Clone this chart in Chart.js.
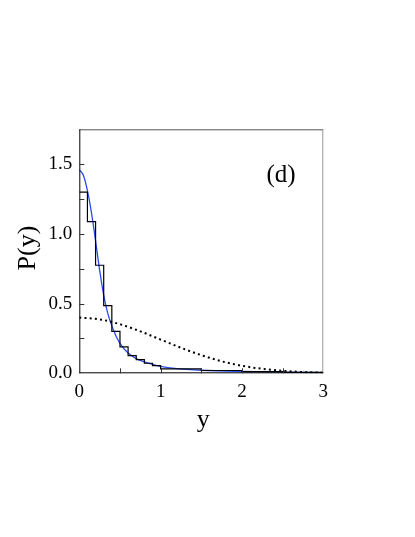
<!DOCTYPE html>
<html>
<head>
<meta charset="utf-8">
<script src="https://cdn.jsdelivr.net/npm/chart.js@4"></script>
<style>
  html, body { margin: 0; padding: 0; background: #fff; }
  canvas { display: block; }
</style>
</head>
<body>
<canvas id="c" width="415" height="537"></canvas>
<script>
// Histogram: bin left edges and heights (last edge closes the step)
const histEdges  = [0, 0.1, 0.2, 0.3, 0.4, 0.5, 0.6, 0.7, 0.8, 0.9, 1.0, 1.5, 2.0, 2.5, 3.0];
const histValues = [1.30, 1.088, 0.775, 0.485, 0.30, 0.19, 0.127, 0.098, 0.072, 0.055, 0.032, 0.02, 0.012, 0.007, 0.007];

// Blue fitted curve
const blueX = [0, 0.05, 0.1, 0.15, 0.2, 0.25, 0.3, 0.35, 0.4, 0.45, 0.5, 0.6, 0.7, 0.8, 0.9, 1.0, 1.2, 1.5, 2.0, 2.5, 3.0];
const blueY = [1.46, 1.42, 1.31, 1.15, 0.95, 0.74, 0.56, 0.43, 0.34, 0.27, 0.215, 0.145, 0.105, 0.082, 0.064, 0.05, 0.034, 0.022, 0.013, 0.008, 0.005];

// Dotted curve
const dotX = [0, 0.25, 0.5, 0.75, 1.0, 1.25, 1.5, 1.75, 2.0, 2.25, 2.5, 2.75, 3.0];
const dotY = [0.40, 0.387, 0.352, 0.301, 0.242, 0.183, 0.13, 0.086, 0.054, 0.032, 0.018, 0.009, 0.0045];

// Ticks
const xTicks = [0, 1, 2, 3];
const xMinorTicks = [0.5, 1, 1.5, 2, 2.5];
const yTicks = [0, 0.5, 1.0, 1.5];
const yMinorTicks = [0.25, 0.5, 0.75, 1.0, 1.25, 1.5];

const xTitle = 'y';
const yTitle = 'P(y)';
const panelLabel = '(d)';

const SERIF = '"Liberation Serif", "DejaVu Serif", serif';

const frame = {
  id: 'frame',
  afterDraw(chart) {
    const ctx = chart.ctx;
    const a = chart.chartArea;
    const xs = chart.scales.x, ys = chart.scales.y;
    ctx.save();
    // borders
    ctx.lineWidth = 1;
    ctx.strokeStyle = '#555';
    ctx.beginPath();
    ctx.moveTo(a.left, a.top + 0.5); ctx.lineTo(a.right, a.top + 0.5);
    ctx.stroke();
    ctx.strokeStyle = '#999';
    ctx.beginPath();
    ctx.moveTo(a.right - 0.5, a.top); ctx.lineTo(a.right - 0.5, a.bottom);
    ctx.stroke();
    ctx.strokeStyle = '#000';
    ctx.beginPath();
    ctx.moveTo(a.left + 0.5, a.top); ctx.lineTo(a.left + 0.5, a.bottom);
    ctx.moveTo(a.left, a.bottom - 0.5); ctx.lineTo(a.right, a.bottom - 0.5);
    ctx.stroke();
    // inner ticks
    ctx.strokeStyle = '#333';
    ctx.beginPath();
    xMinorTicks.forEach(v => {
      const px = Math.round(xs.getPixelForValue(v)) + 0.5;
      ctx.moveTo(px, a.bottom); ctx.lineTo(px, a.bottom - 5);
    });
    yMinorTicks.forEach(v => {
      const py = Math.round(ys.getPixelForValue(v)) + 0.5;
      ctx.moveTo(a.left, py); ctx.lineTo(a.left + 5, py);
    });
    ctx.stroke();
    // titles
    ctx.fillStyle = '#000';
    ctx.textAlign = 'center';
    ctx.textBaseline = 'middle';
    ctx.font = '26px ' + SERIF;
    ctx.fillText(xTitle, (a.left + a.right) / 2 + 2, 420);
    ctx.save();
    ctx.translate(28, 248);
    ctx.rotate(-Math.PI / 2);
    ctx.fillText(yTitle, 0, 0);
    ctx.restore();
    ctx.font = '25px ' + SERIF;
    ctx.fillText(panelLabel, 281, 175);
    ctx.restore();
  }
};

new Chart(document.getElementById('c'), {
  type: 'line',
  data: {
    datasets: [
      {
        label: 'hist',
        data: histEdges.map((x, i) => ({ x: x, y: histValues[i] })),
        stepped: 'before',
        borderColor: '#000',
        borderWidth: 1.2,
        pointRadius: 0,
        fill: false
      },
      {
        label: 'dotted',
        data: dotX.map((x, i) => ({ x: x, y: dotY[i] })),
        borderColor: '#000',
        borderWidth: 2,
        borderDash: [2, 3.2],
        pointRadius: 0,
        cubicInterpolationMode: 'monotone',
        fill: false
      },
      {
        label: 'fit',
        data: blueX.map((x, i) => ({ x: x, y: blueY[i] })),
        borderColor: '#2a4bf0',
        borderWidth: 1.3,
        pointRadius: 0,
        cubicInterpolationMode: 'monotone',
        fill: false
      }
    ]
  },
  options: {
    responsive: false,
    animation: false,
    events: [],
    layout: { padding: { top: 129.3, right: 91.7, left: 0, bottom: 0 } },
    plugins: { legend: { display: false }, tooltip: { enabled: false } },
    scales: {
      x: {
        type: 'linear',
        min: 0, max: 3,
        grid: { display: false, drawTicks: false },
        border: { display: false },
        afterBuildTicks: s => { s.ticks = xTicks.map(v => ({ value: v })); },
        afterFit: s => { s.height = 537 - 373.3; },
        ticks: {
          color: '#000',
          font: { family: SERIF, size: 19 },
          padding: 7,
          maxRotation: 0,
          callback: v => String(v)
        }
      },
      y: {
        type: 'linear',
        min: 0, max: 1.75,
        grid: { display: false, drawTicks: false },
        border: { display: false },
        afterBuildTicks: s => { s.ticks = yTicks.map(v => ({ value: v })); },
        afterFit: s => { s.width = 79.3; },
        ticks: {
          color: '#000',
          font: { family: SERIF, size: 19 },
          padding: 7,
          callback: v => Number(v).toFixed(1)
        }
      }
    }
  },
  plugins: [frame]
});
</script>
</body>
</html>
